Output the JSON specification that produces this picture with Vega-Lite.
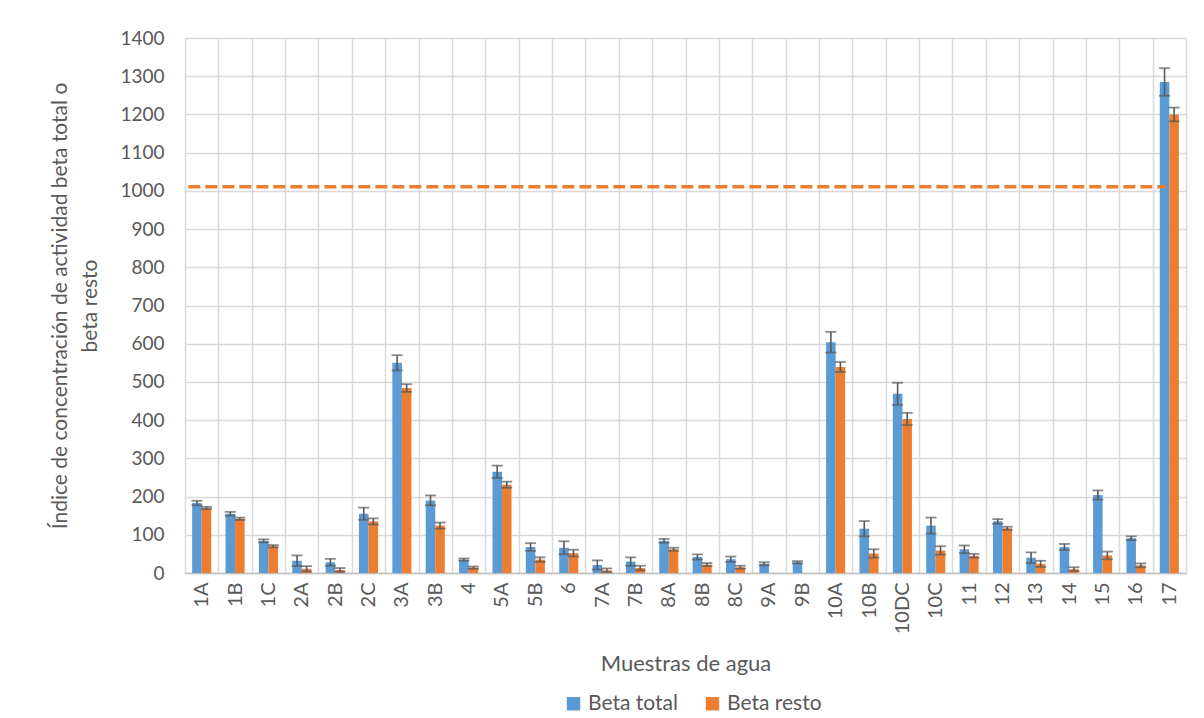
{
  "$schema": "https://vega.github.io/schema/vega-lite/v6.json",
  "width": 1001,
  "height": 535,
  "autosize": "none",
  "padding": {"left": 185, "top": 38, "right": 18, "bottom": 145},
  "background": "white",
  "config": {
    "view": {"stroke": null},
    "font": "Lato",
    "axis": {"labelColor": "#595959", "titleColor": "#595959", "titleFontWeight": "normal", "gridColor": "#d9d9d9", "gridWidth": 1.5, "ticks": false},
    "axisY": {"labelOverlap": false, "format": "d", "domain": false, "labelFontSize": 19, "labelPadding": 21, "titleFontSize": 21, "titlePadding": 19, "titleLineHeight": 30}
  },
  "datasets": {
    "bars": [
      {"m": "1A", "s": "Beta total", "v": 183, "lo": 177, "hi": 189},
      {"m": "1A", "s": "Beta resto", "v": 170, "lo": 167, "hi": 173},
      {"m": "1B", "s": "Beta total", "v": 155, "lo": 150, "hi": 160},
      {"m": "1B", "s": "Beta resto", "v": 142, "lo": 139, "hi": 145},
      {"m": "1C", "s": "Beta total", "v": 84, "lo": 80, "hi": 88},
      {"m": "1C", "s": "Beta resto", "v": 70, "lo": 67, "hi": 73},
      {"m": "2A", "s": "Beta total", "v": 32, "lo": 18, "hi": 46},
      {"m": "2A", "s": "Beta resto", "v": 11, "lo": 4, "hi": 18},
      {"m": "2B", "s": "Beta total", "v": 28, "lo": 19, "hi": 37},
      {"m": "2B", "s": "Beta resto", "v": 8, "lo": 3, "hi": 13},
      {"m": "2C", "s": "Beta total", "v": 155, "lo": 139, "hi": 171},
      {"m": "2C", "s": "Beta resto", "v": 135, "lo": 127, "hi": 143},
      {"m": "3A", "s": "Beta total", "v": 550, "lo": 530, "hi": 570},
      {"m": "3A", "s": "Beta resto", "v": 484, "lo": 474, "hi": 494},
      {"m": "3B", "s": "Beta total", "v": 190, "lo": 177, "hi": 203},
      {"m": "3B", "s": "Beta resto", "v": 124, "lo": 116, "hi": 132},
      {"m": "4", "s": "Beta total", "v": 35, "lo": 32, "hi": 38},
      {"m": "4", "s": "Beta resto", "v": 14, "lo": 11, "hi": 17},
      {"m": "5A", "s": "Beta total", "v": 265, "lo": 249, "hi": 281},
      {"m": "5A", "s": "Beta resto", "v": 231, "lo": 223, "hi": 239},
      {"m": "5B", "s": "Beta total", "v": 68, "lo": 58, "hi": 78},
      {"m": "5B", "s": "Beta resto", "v": 35, "lo": 29, "hi": 41},
      {"m": "6", "s": "Beta total", "v": 66, "lo": 49, "hi": 83},
      {"m": "6", "s": "Beta resto", "v": 52, "lo": 43, "hi": 61},
      {"m": "7A", "s": "Beta total", "v": 21, "lo": 9, "hi": 33},
      {"m": "7A", "s": "Beta resto", "v": 7, "lo": 2, "hi": 12},
      {"m": "7B", "s": "Beta total", "v": 30, "lo": 19, "hi": 41},
      {"m": "7B", "s": "Beta resto", "v": 13, "lo": 7, "hi": 19},
      {"m": "8A", "s": "Beta total", "v": 84, "lo": 79, "hi": 89},
      {"m": "8A", "s": "Beta resto", "v": 62, "lo": 58, "hi": 66},
      {"m": "8B", "s": "Beta total", "v": 42, "lo": 35, "hi": 49},
      {"m": "8B", "s": "Beta resto", "v": 22, "lo": 18, "hi": 26},
      {"m": "8C", "s": "Beta total", "v": 36, "lo": 29, "hi": 43},
      {"m": "8C", "s": "Beta resto", "v": 15, "lo": 11, "hi": 19},
      {"m": "9A", "s": "Beta total", "v": 24, "lo": 20, "hi": 28},
      {"m": "9B", "s": "Beta total", "v": 28, "lo": 25, "hi": 31},
      {"m": "10A", "s": "Beta total", "v": 604, "lo": 577, "hi": 631},
      {"m": "10A", "s": "Beta resto", "v": 539, "lo": 526, "hi": 552},
      {"m": "10B", "s": "Beta total", "v": 116, "lo": 96, "hi": 136},
      {"m": "10B", "s": "Beta resto", "v": 51, "lo": 40, "hi": 62},
      {"m": "10DC", "s": "Beta total", "v": 469, "lo": 440, "hi": 498},
      {"m": "10DC", "s": "Beta resto", "v": 403, "lo": 387, "hi": 419},
      {"m": "10C", "s": "Beta total", "v": 124, "lo": 103, "hi": 145},
      {"m": "10C", "s": "Beta resto", "v": 59, "lo": 48, "hi": 70},
      {"m": "11", "s": "Beta total", "v": 62, "lo": 52, "hi": 72},
      {"m": "11", "s": "Beta resto", "v": 45, "lo": 40, "hi": 50},
      {"m": "12", "s": "Beta total", "v": 135, "lo": 129, "hi": 141},
      {"m": "12", "s": "Beta resto", "v": 117, "lo": 113, "hi": 121},
      {"m": "13", "s": "Beta total", "v": 40, "lo": 26, "hi": 54},
      {"m": "13", "s": "Beta resto", "v": 24, "lo": 16, "hi": 32},
      {"m": "14", "s": "Beta total", "v": 68, "lo": 60, "hi": 76},
      {"m": "14", "s": "Beta resto", "v": 10, "lo": 5, "hi": 15},
      {"m": "15", "s": "Beta total", "v": 204, "lo": 192, "hi": 216},
      {"m": "15", "s": "Beta resto", "v": 46, "lo": 36, "hi": 56},
      {"m": "16", "s": "Beta total", "v": 91, "lo": 86, "hi": 96},
      {"m": "16", "s": "Beta resto", "v": 20, "lo": 15, "hi": 25},
      {"m": "17", "s": "Beta total", "v": 1285, "lo": 1249, "hi": 1321},
      {"m": "17", "s": "Beta resto", "v": 1200, "lo": 1182, "hi": 1218}
    ],
    "limit": [{"lim": 1011, "a": "1A", "b": "17"}]
  },
  "encoding": {
    "y": {"field": "v", "type": "quantitative", "title": ["Índice de concentración de actividad beta total o", "beta resto"],
      "scale": {"domain": [0, 1400], "nice": false},
      "axis": {"tickCount": 14, "grid": true}}
  },
  "layer": [
    {
      "data": {"name": "bars"},
      "mark": {"type": "bar"},
      "encoding": {
        "x": {"field": "m", "type": "nominal", "sort": null, "title": "Muestras de agua",
          "scale": {"paddingInner": 0, "paddingOuter": 0},
          "axis": {"tickBand": "extent", "labelAngle": -90, "labelFontSize": 20, "labelPadding": 9, "titleFontSize": 22, "titlePadding": 20, "domainColor": "#bfbfbf", "domainWidth": 1.5, "grid": true}},
        "xOffset": {"field": "s", "type": "nominal", "sort": ["Beta total", "Beta resto"], "scale": {"paddingInner": 0, "paddingOuter": 0.75}},
        "color": {"field": "s", "type": "nominal", "scale": {"domain": ["Beta total", "Beta resto"], "range": ["#5B9BD5", "#ED7D31"]},
          "legend": {"orient": "none", "legendX": 378, "legendY": 655, "direction": "horizontal", "title": null, "symbolType": "square", "symbolSize": 180, "symbolStrokeWidth": 0, "labelFontSize": 21, "labelColor": "#595959", "columnPadding": 24, "padding": 0}}
      }
    },
    {
      "data": {"name": "bars"},
      "mark": {"type": "rule", "color": "#595959", "strokeWidth": 1.6},
      "encoding": {
        "x": {"field": "m", "type": "nominal", "sort": null, "title": "Muestras de agua"},
        "xOffset": {"field": "s", "type": "nominal", "sort": ["Beta total", "Beta resto"]},
        "y": {"field": "lo", "type": "quantitative", "title": ["Índice de concentración de actividad beta total o", "beta resto"], "axis": {"tickCount": 14, "grid": true}},
        "y2": {"field": "hi"}
      }
    },
    {
      "data": {"name": "bars"},
      "mark": {"type": "tick", "orient": "horizontal", "color": "#595959", "size": 11, "thickness": 1.8},
      "encoding": {
        "x": {"field": "m", "type": "nominal", "sort": null, "title": "Muestras de agua"},
        "xOffset": {"field": "s", "type": "nominal", "sort": ["Beta total", "Beta resto"]},
        "y": {"field": "lo", "type": "quantitative", "title": ["Índice de concentración de actividad beta total o", "beta resto"], "axis": {"tickCount": 14, "grid": true}}
      }
    },
    {
      "data": {"name": "bars"},
      "mark": {"type": "tick", "orient": "horizontal", "color": "#595959", "size": 11, "thickness": 1.8},
      "encoding": {
        "x": {"field": "m", "type": "nominal", "sort": null, "title": "Muestras de agua"},
        "xOffset": {"field": "s", "type": "nominal", "sort": ["Beta total", "Beta resto"]},
        "y": {"field": "hi", "type": "quantitative", "title": ["Índice de concentración de actividad beta total o", "beta resto"], "axis": {"tickCount": 14, "grid": true}}
      }
    },
    {
      "data": {"name": "limit"},
      "mark": {"type": "rule", "color": "#ED7D31", "strokeWidth": 3.5, "strokeDash": [12, 5]},
      "encoding": {
        "x": {"field": "a", "type": "nominal", "sort": null, "title": "Muestras de agua", "bandPosition": 0.1},
        "x2": {"field": "b", "bandPosition": 0.4},
        "y": {"field": "lim", "type": "quantitative", "title": ["Índice de concentración de actividad beta total o", "beta resto"], "axis": {"tickCount": 14, "grid": true}}
      }
    }
  ]
}
